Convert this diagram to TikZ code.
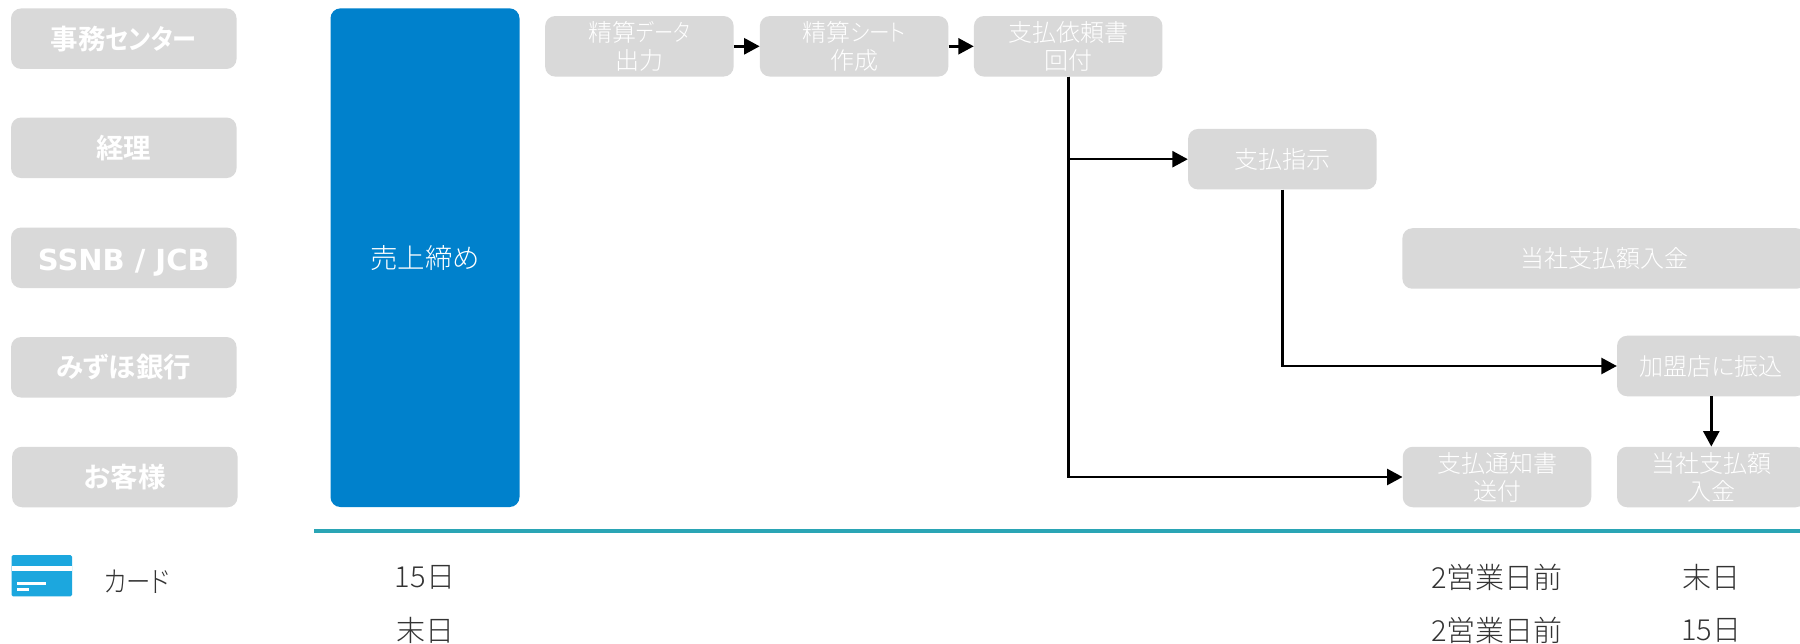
\documentclass[tikz,border=0pt]{standalone}
\usepackage{graphicx}
\usepackage{fontspec}
\setmainfont{Noto Sans CJK JP}[UprightFont=* Light,BoldFont=* Bold,RawFeature=+palt]
\newfontfamily\latbold{DejaVu Sans Bold}
\usetikzlibrary{arrows.meta}
\definecolor{boxgray}{HTML}{D9D9D9}
\definecolor{mainblue}{HTML}{0081CC}
\definecolor{rulecolor}{HTML}{2AA5B5}
\definecolor{iconblue}{HTML}{1CA7DE}
\definecolor{datetext}{HTML}{333333}
\newcommand{\narrowkana}[2]{\scalebox{#1}[1]{#2}}
\tikzset{
  x=1pt,y=-1pt,
  graybox/.style={fill=boxgray,draw=none,rounded corners=10pt,inner sep=0pt,text=white,align=center,
    font=\fontsize{24}{28}\selectfont},
  lanebox/.style={graybox,minimum width=225.5pt,minimum height=60.5pt,font=\fontsize{27.5}{30}\selectfont\bfseries},
  stepbox/.style={graybox,minimum width=188.5pt,minimum height=60.5pt},
  flow/.style={draw=black,line width=2.6pt,-{Triangle[length=15.5pt,width=16pt]}},
  datelabel/.style={text=datetext,inner sep=0pt,font=\fontsize{29}{30}\selectfont},
}
\begin{document}
\begin{tikzpicture}
\useasboundingbox (0,0) rectangle (1800,644);
\fill[white] (0,0) rectangle (1800,644);
% lanes
\node[lanebox] (l1) at (123.8,38.7) {\raisebox{-1.5pt}{事務\narrowkana{0.88}{センター}}};
\node[lanebox] (l2) at (123.8,147.8) {\raisebox{-1.5pt}{経理}};
\node[lanebox] (l3) at (123.8,257.8) {\smash{\raisebox{-12.5pt}{\latbold\fontsize{29}{30}\selectfont SSNB / JCB}}};
\node[lanebox] (l4) at (123.8,367.3) {\raisebox{-1.5pt}{みずほ銀行}};
\node[lanebox] (l5) at (124.8,477) {\raisebox{-1.5pt}{お客様}};
% main block
\node[fill=mainblue,rounded corners=10pt,inner sep=0pt,minimum width=189pt,minimum height=498.7pt,text=white,
  font=\fontsize{27.5}{30}\selectfont] (uriage) at (425,257.7) {\raisebox{-1.5pt}{売上締め}};
% steps
\node[stepbox] (a1) at (639.4,46.3) {精算\narrowkana{0.8}{データ}\\出力};
\node[stepbox] (a2) at (854.1,46.3) {精算\narrowkana{0.86}{シート}\\作成};
\node[stepbox] (a3) at (1068.2,46.3) {支払依頼書\\回付};
\node[stepbox] (b1) at (1282.3,159.2) {\raisebox{-1.5pt}{支払指示}};
\node[graybox,minimum width=404pt,minimum height=60.5pt] (c1) at (1604.4,258.5) {\raisebox{-1.5pt}{当社支払額入金}};
\node[stepbox] (d1) at (1711.3,366) {\raisebox{-1.5pt}{加盟店に振込}};
\node[stepbox] (e1) at (1497,477) {支払通知書\\送付};
\node[stepbox] (e2) at (1711.3,477) {当社支払額\\入金};
% connectors
\draw[flow] (a1) -- (a2);
\draw[flow] (a2) -- (a3);
\draw[flow] (a3.south) |- (b1.west);
\draw[flow] (a3.south) |- (e1.west);
\draw[flow] (b1.south) |- (d1.west);
\draw[flow] (d1.south) -- (e2.north);
% rule
\fill[rulecolor] (314,529.3) rectangle (1800,533.3);
% card icon
\fill[iconblue,rounded corners=1.5pt] (11.5,555) rectangle (72,596.3);
\fill[white] (11.5,566.3) rectangle (72,571.3);
\fill[white] (17,582) rectangle (45.5,585.3);
\fill[white] (17,588) rectangle (28.7,590.7);
% labels
\node[datelabel] (card) at (137,581.5) {\narrowkana{0.84}{カード}};
\node[datelabel] (t1) at (425,577) {15日};
\node[datelabel] (t2) at (425,630) {末日};
\node[datelabel] (t3) at (1497,577) {2営業日前};
\node[datelabel] (t4) at (1497,630) {2営業日前};
\node[datelabel] (t5) at (1711,577) {末日};
\node[datelabel] (t6) at (1711,630) {15日};
\end{tikzpicture}
\end{document}
